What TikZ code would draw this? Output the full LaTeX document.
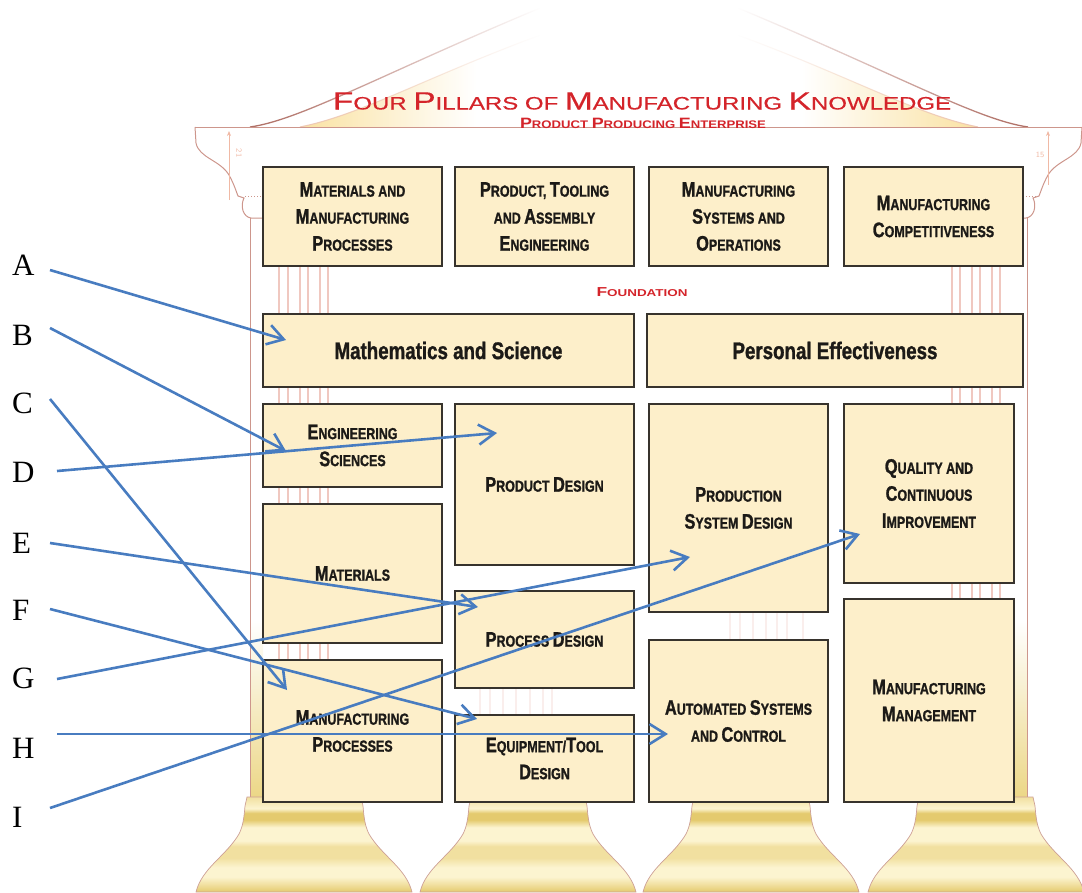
\documentclass[tikz,border=0pt]{standalone}
\usepackage{fontspec}
\usepackage{graphicx}
\setmainfont{Liberation Serif}
\newfontface\bxf[FakeStretch=0.78,FakeBold=1.2]{Liberation Sans Bold}
\newfontface\ttlf[FakeBold=0.4]{Liberation Sans}
\newfontface\ttlb{Liberation Sans Bold}
\usetikzlibrary{arrows.meta,fadings}
\definecolor{boxfill}{RGB}{253,239,202}
\definecolor{boxln}{RGB}{55,51,45}
\definecolor{txt}{RGB}{28,26,23}
\definecolor{arrblue}{RGB}{72,124,192}
\definecolor{ttlred}{RGB}{212,36,42}
\definecolor{roofc}{RGB}{175,110,100}
\definecolor{roofin}{RGB}{238,200,180}
\definecolor{cornc}{RGB}{205,150,140}
\definecolor{flutec}{RGB}{240,200,192}
\definecolor{annotc}{RGB}{240,185,165}
\definecolor{pedY}{RGB}{250,226,162}
\definecolor{shaftY}{RGB}{236,215,135}
\definecolor{bsL}{RGB}{252,244,208}
\definecolor{bsD}{RGB}{228,202,110}
\definecolor{bsM}{RGB}{241,224,160}
\definecolor{baseln}{RGB}{205,160,150}
\pgfdeclarehorizontalshading{pedsh}{100bp}{color(0bp)=(pedY); color(25bp)=(pedY); color(38bp)=(white); color(62bp)=(white); color(75bp)=(pedY); color(100bp)=(pedY)}
\pgfdeclareverticalshading{basesh}{100bp}{color(0bp)=(bsD); color(25bp)=(bsD); color(29bp)=(bsM); color(33bp)=(bsL); color(38bp)=(bsL); color(43bp)=(bsM); color(49bp)=(bsM); color(52bp)=(bsL); color(59bp)=(bsL); color(63bp)=(bsD); color(66.5bp)=(bsD); color(69bp)=(bsL); color(75bp)=(bsM); color(100bp)=(bsM)}
\tikzfading[name=rooffade, top color=transparent!100, middle color=transparent!0, bottom color=transparent!0]
\newcommand\Bg[1]{{\fontsize{21}{27}\selectfont #1}}
\newcommand\TL[1]{{\fontsize{25}{25}\selectfont #1}}
\newcommand\SL[1]{{\fontsize{15}{15}\selectfont #1}}
\newcommand\FL[1]{{\fontsize{13}{13}\selectfont #1}}
\begin{document}
\begin{tikzpicture}[x=1pt,y=-1pt,
 box/.style={draw=boxln, fill=boxfill, line width=1.5pt, text=txt, font=\bxf\fontsize{16}{27}\selectfont, align=center, inner sep=0pt},
 lbl/.style={font=\fontsize{31}{31}\selectfont, inner sep=0pt, anchor=west, text=black},
 arr/.style={draw=arrblue, line width=2.6pt, -{Straight Barb[length=16pt,width=20pt]}},
 corn/.style={draw=cornc, line width=1pt},
 flute/.style={draw=flutec, line width=1.1pt}]
\useasboundingbox (0,0) rectangle (1082,892);
% pediment
\shade[shading=pedsh] (300,127) .. controls (360,115) and (420,80) .. (540,35) -- (738,35) .. controls (858,80) and (918,115) .. (978,127) -- cycle;
\draw[draw=roofc, line width=1.3pt, path fading=rooffade] (250,127) .. controls (300,120) and (380,75) .. (540,8);
\draw[draw=roofc, line width=1.3pt, path fading=rooffade] (1028,127) .. controls (978,120) and (898,75) .. (738,8);
\draw[draw=roofin, line width=1.1pt, path fading=rooffade] (300,127) .. controls (360,115) and (420,80) .. (540,35);
\draw[draw=roofin, line width=1.1pt, path fading=rooffade] (978,127) .. controls (918,115) and (858,80) .. (738,35);
% cornice
\draw[corn] (195,127) -- (1082,127);
\draw[corn] (195,127) -- (196,143) .. controls (199,158) and (220,160) .. (229,175) .. controls (234,184) and (236,191) .. (238,196) -- (244,198) .. controls (240,206) and (243,217) .. (251,218) -- (262,218);
\draw[corn] (1082,127) -- (1081,143) .. controls (1078,158) and (1057,160) .. (1048,175) .. controls (1043,184) and (1041,191) .. (1039,196) -- (1033,198) .. controls (1037,206) and (1034,217) .. (1026,218) -- (1015,218);
\draw[corn, dotted] (245,196) -- (263,196);
\draw[corn, dotted] (1023,196) -- (1038,196);
\draw[draw=annotc, line width=0.7pt, -{Stealth[length=5pt,width=4pt]}] (229,200) -- (229,131);
\draw[draw=annotc, line width=0.7pt, -{Stealth[length=5pt,width=4pt]}] (1048,185) -- (1048,131);
\node[font=\sffamily\fontsize{8}{8}\selectfont, text=annotc, rotate=-90, inner sep=0pt] (n21) at (239,153) {21};
\node[font=\sffamily\fontsize{8}{8}\selectfont, text=annotc, inner sep=0pt] (n15) at (1040,155) {15};
% shafts
\shade[top color=white, bottom color=shaftY] (250.5,620) rectangle (263,797);
\shade[top color=white, bottom color=shaftY] (1014,620) rectangle (1026.5,797);
\draw[corn] (250,218) -- (250,797);
\draw[corn] (1027,218) -- (1027,797);
\foreach \x in {279,288,300,308,320,328,952,960,972,980,992,1000} \draw[flute] (\x,200) -- (\x,797);
\foreach \x in {480,490,503,516,530,543,552,730,740,753,766,777,787,803} \draw[flute, opacity=0.3] (\x,600) -- (\x,797);
% bases
\foreach \c in {304,528,751,976}
  \shadedraw[shading=basesh, draw=baseln, line width=0.7pt] (\c-57,797) -- (\c-59,806) .. controls (\c-60,818) and (\c-61,826) .. (\c-65,834) .. controls (\c-78,856) and (\c-102,868) .. (\c-108,892) -- (\c+108,892) .. controls (\c+102,868) and (\c+78,856) .. (\c+65,834) .. controls (\c+61,826) and (\c+60,818) .. (\c+59,806) -- (\c+57,797) -- cycle;
% boxes
\node[box, minimum width=179pt, minimum height=99pt] (m1) at (352.5,216.5) {\Bg{M}ATERIALS AND\\\Bg{M}ANUFACTURING\\\Bg{P}ROCESSES};
\node[box, minimum width=179pt, minimum height=99pt] (m2) at (544.5,216.5) {\Bg{P}RODUCT, \Bg{T}OOLING\\AND \Bg{A}SSEMBLY\\\Bg{E}NGINEERING};
\node[box, minimum width=179pt, minimum height=99pt] (m3) at (738.5,216.5) {\Bg{M}ANUFACTURING\\\Bg{S}YSTEMS AND\\\Bg{O}PERATIONS};
\node[box, minimum width=179pt, minimum height=99pt] (m4) at (933.5,216.5) {\Bg{M}ANUFACTURING\\\Bg{C}OMPETITIVENESS};
\node[box, font=\bxf\fontsize{24}{28}\selectfont, minimum width=371pt, minimum height=73pt] (math) at (448.5,350.5) {Mathematics and Science};
\node[box, font=\bxf\fontsize{24}{28}\selectfont, minimum width=376pt, minimum height=73pt] (pers) at (835,350.5) {Personal Effectiveness};
\node[box, minimum width=179pt, minimum height=83pt] (eng) at (352.5,445.5) {\Bg{E}NGINEERING\\\Bg{S}CIENCES};
\node[box, minimum width=179pt, minimum height=161pt] (prod) at (544.5,484.5) {\Bg{P}RODUCT \Bg{D}ESIGN};
\node[box, minimum width=179pt, minimum height=208pt] (psd) at (738.5,508) {\Bg{P}RODUCTION\\\Bg{S}YSTEM \Bg{D}ESIGN};
\node[box, minimum width=170pt, minimum height=179pt] (qual) at (929,493.5) {\Bg{Q}UALITY AND\\\Bg{C}ONTINUOUS\\\Bg{I}MPROVEMENT};
\node[box, minimum width=179pt, minimum height=139pt] (mat) at (352.5,573.5) {\Bg{M}ATERIALS};
\node[box, minimum width=179pt, minimum height=97pt] (proc) at (544.5,639.5) {\Bg{P}ROCESS \Bg{D}ESIGN};
\node[box, minimum width=179pt, minimum height=162pt] (auto) at (738.5,721) {\Bg{A}UTOMATED \Bg{S}YSTEMS\\AND \Bg{C}ONTROL};
\node[box, minimum width=170pt, minimum height=203pt] (mgmt) at (929,700.5) {\Bg{M}ANUFACTURING\\\Bg{M}ANAGEMENT};
\node[box, minimum width=179pt, minimum height=142pt] (mproc) at (352.5,731) {\Bg{M}ANUFACTURING\\\Bg{P}ROCESSES};
\node[box, minimum width=179pt, minimum height=87pt] (equip) at (544.5,758.5) {\Bg{E}QUIPMENT/\Bg{T}OOL\\\Bg{D}ESIGN};
% titles
\node[text=ttlred, inner sep=0pt] (title) at (642,101) {\resizebox{618pt}{\height}{\ttlf\fontsize{18}{18}\selectfont\TL{F}OUR \TL{P}ILLARS OF \TL{M}ANUFACTURING \TL{K}NOWLEDGE}};
\node[text=ttlred, inner sep=0pt] (sub) at (643,123) {\resizebox{246pt}{\height}{\ttlb\fontsize{11}{11}\selectfont\SL{P}RODUCT \SL{P}RODUCING \SL{E}NTERPRISE}};
\node[text=ttlred, inner sep=0pt] (found) at (642,292) {\resizebox{91pt}{\height}{\ttlb\fontsize{10}{10}\selectfont\FL{F}OUNDATION}};
% labels
\node[lbl] (A) at (12,265) {A};
\node[lbl] (B) at (12,335) {B};
\node[lbl] (C) at (12,403) {C};
\node[lbl] (D) at (12,472) {D};
\node[lbl] (E) at (12,543) {E};
\node[lbl] (F) at (12,610) {F};
\node[lbl] (G) at (12,678) {G};
\node[lbl] (H) at (12,748) {H};
\node[lbl] (I) at (12,817) {I};
\coordinate (sA) at (50,270); \coordinate (tA) at (286,340);
\coordinate (sB) at (50,328); \coordinate (tB) at (286,451);
\coordinate (sC) at (50,399); \coordinate (tC) at (287,690);
\coordinate (sD) at (57,471); \coordinate (tD) at (497,433);
\coordinate (sE) at (50,543); \coordinate (tE) at (478,607);
\coordinate (sF) at (50,609); \coordinate (tF) at (477,719);
\coordinate (sG) at (57,679); \coordinate (tG) at (690,557);
\coordinate (sH) at (57,734); \coordinate (tH) at (668,734);
\coordinate (sI) at (50,808); \coordinate (tI) at (860,534);
\foreach \p in {A,B,C,D,E,F,G,H,I} \draw[arr] (s\p) -- (t\p);
\end{tikzpicture}
\end{document}
